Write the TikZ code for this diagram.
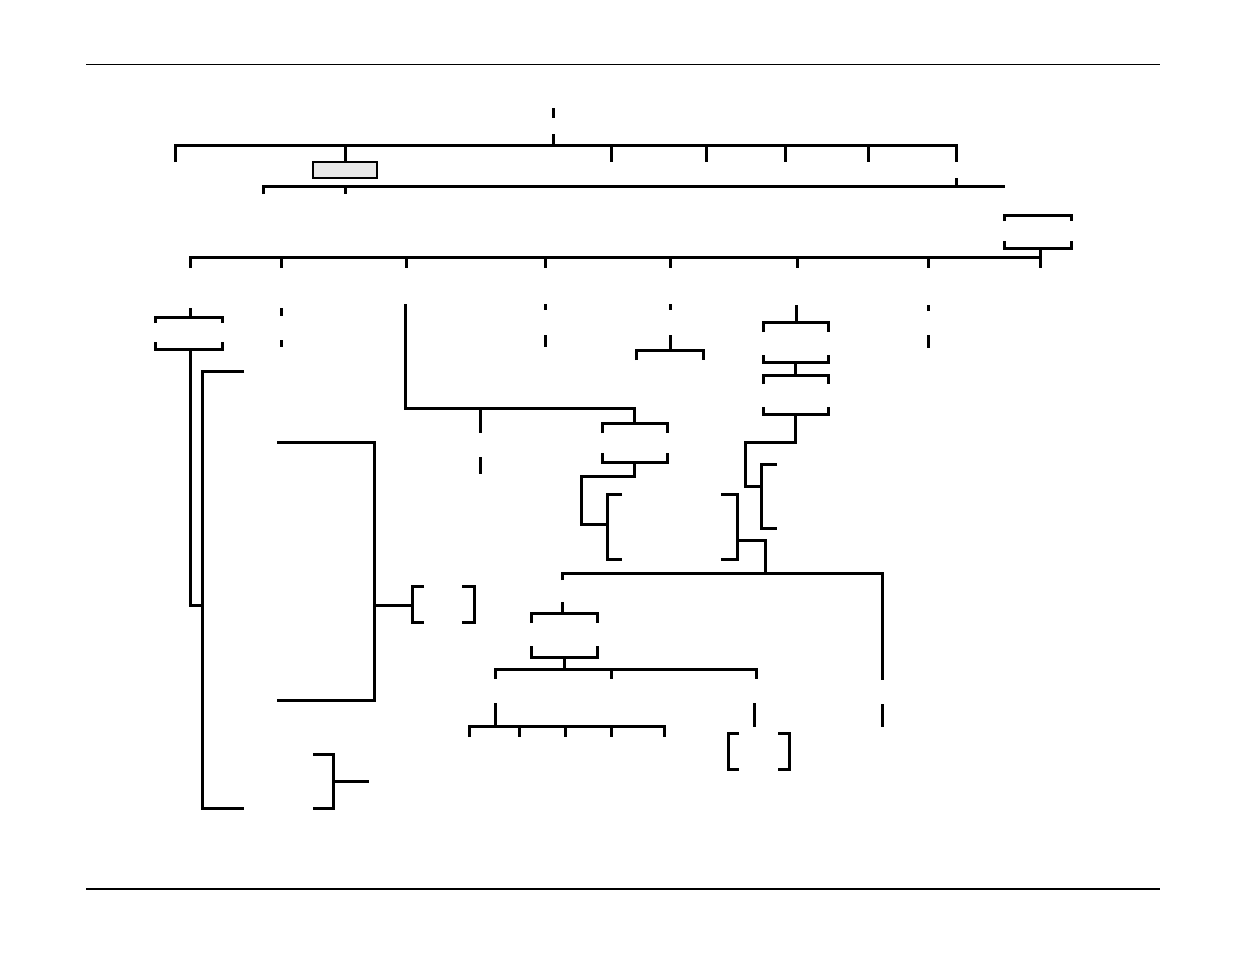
\documentclass[tikz,border=0pt]{standalone}
\definecolor{boxgray}{HTML}{E8E8E8}
\tikzset{
  ln/.style={line width=3pt, line cap=butt, line join=miter},
  rule/.style={line width=1.2pt},
  graybox/.style={draw=black, line width=1.1pt, fill=boxgray}
}
\begin{document}
\begin{tikzpicture}[x=1pt,y=-1pt]
\useasboundingbox (0,0) rectangle (1235,954);
% page rules
\draw[rule] (86,64.5) -- (1160,64.5);
\draw[rule] (86,889) -- (1160,889);

% ---- top level ----
\draw[ln] (553,108) -- (553,118);
\draw[ln] (553,134) -- (553,145);
\draw[ln] (175,162) -- (175,145) -- (956,145) -- (956,162);
\foreach \x in {345,611,706,785,868} \draw[ln] (\x,145) -- (\x,162);
\draw[graybox] (313,162) rectangle (377,178);
\draw[ln] (263,194) -- (263,186) -- (1005,186);
\draw[ln] (345,186) -- (345,194);
\draw[ln] (956,178) -- (956,186);

% right box
\draw[ln] (1004,221) -- (1004,215) -- (1071,215) -- (1071,221);
\draw[ln] (1004,241) -- (1004,248) -- (1071,248) -- (1071,241);
\draw[ln] (1040,248) -- (1040,268);

% third level
\draw[ln] (190,268) -- (190,257) -- (1040,257);
\foreach \x in {281,406,545,670,797,928} \draw[ln] (\x,257) -- (\x,268);

% ---- column 190 ----
\draw[ln] (190,308) -- (190,317);
\draw[ln] (155,323) -- (155,317) -- (222,317) -- (222,323);
\draw[ln] (155,342) -- (155,349) -- (222,349) -- (222,342);
\draw[ln] (190,349) -- (190,605) -- (202,605);
\draw[ln] (244,371) -- (202,371) -- (202,808) -- (244,808);
% big bracket
\draw[ln] (277,442) -- (374,442) -- (374,700) -- (277,700);
\draw[ln] (374,605) -- (412,605);
\draw[ln] (424,586) -- (412,586) -- (412,622) -- (424,622);
\draw[ln] (462,586) -- (474,586) -- (474,622) -- (462,622);
% bottom bracket
\draw[ln] (313,754) -- (333,754) -- (333,808) -- (313,808);
\draw[ln] (333,781) -- (369,781);

% ---- column 281 ----
\draw[ln] (281,308) -- (281,316);
\draw[ln] (281,340) -- (281,347);

% ---- column 406 ----
\draw[ln] (405,304) -- (405,408) -- (634,408) -- (634,423);
\draw[ln] (480,408) -- (480,433);
\draw[ln] (480,457) -- (480,474);
\draw[ln] (602,433) -- (602,423) -- (667,423) -- (667,433);
\draw[ln] (602,453) -- (602,462) -- (667,462) -- (667,453);
\draw[ln] (634,462) -- (634,476) -- (581,476) -- (581,524) -- (607,524);
\draw[ln] (622,494) -- (607,494) -- (607,559) -- (622,559);
\draw[ln] (721,494) -- (737,494) -- (737,559) -- (721,559);
\draw[ln] (737,540) -- (765,540) -- (765,573);

% horizontal at 573
\draw[ln] (562,580) -- (562,573) -- (882,573) -- (882,680);
\draw[ln] (882,704) -- (882,727);
\draw[ln] (562,602) -- (562,613);
\draw[ln] (531,623) -- (531,613) -- (597,613) -- (597,623);
\draw[ln] (531,646) -- (531,657) -- (597,657) -- (597,646);
\draw[ln] (564,657) -- (564,669);
\draw[ln] (495,679) -- (495,669) -- (756,669) -- (756,679);
\draw[ln] (611,671) -- (611,679);
\draw[ln] (495,703) -- (495,726);
\draw[ln] (469,737) -- (469,726) -- (664,726) -- (664,737);
\foreach \x in {519,565,611} \draw[ln] (\x,726) -- (\x,737);
\draw[ln] (754,703) -- (754,727);
\draw[ln] (739,733) -- (728,733) -- (728,769) -- (739,769);
\draw[ln] (778,733) -- (789,733) -- (789,769) -- (778,769);

% ---- column 545 ----
\draw[ln] (545,304) -- (545,310);
\draw[ln] (545,335) -- (545,347);

% ---- column 670 ----
\draw[ln] (670,304) -- (670,310);
\draw[ln] (670,335) -- (670,350);
\draw[ln] (636,360) -- (636,350) -- (703,350) -- (703,360);

% ---- column 797 ----
\draw[ln] (796,305) -- (796,322);
\draw[ln] (763,332) -- (763,322) -- (828,322) -- (828,332);
\draw[ln] (763,355) -- (763,362) -- (828,362) -- (828,355);
\draw[ln] (795,362) -- (795,375);
\draw[ln] (763,384) -- (763,375) -- (828,375) -- (828,384);
\draw[ln] (763,407) -- (763,414) -- (828,414) -- (828,407);
\draw[ln] (795,414) -- (795,442) -- (745,442) -- (745,486) -- (761,486);
\draw[ln] (777,464) -- (761,464) -- (761,528) -- (777,528);

% ---- column 928 ----
\draw[ln] (928,305) -- (928,311);
\draw[ln] (928,335) -- (928,348);
\end{tikzpicture}
\end{document}
